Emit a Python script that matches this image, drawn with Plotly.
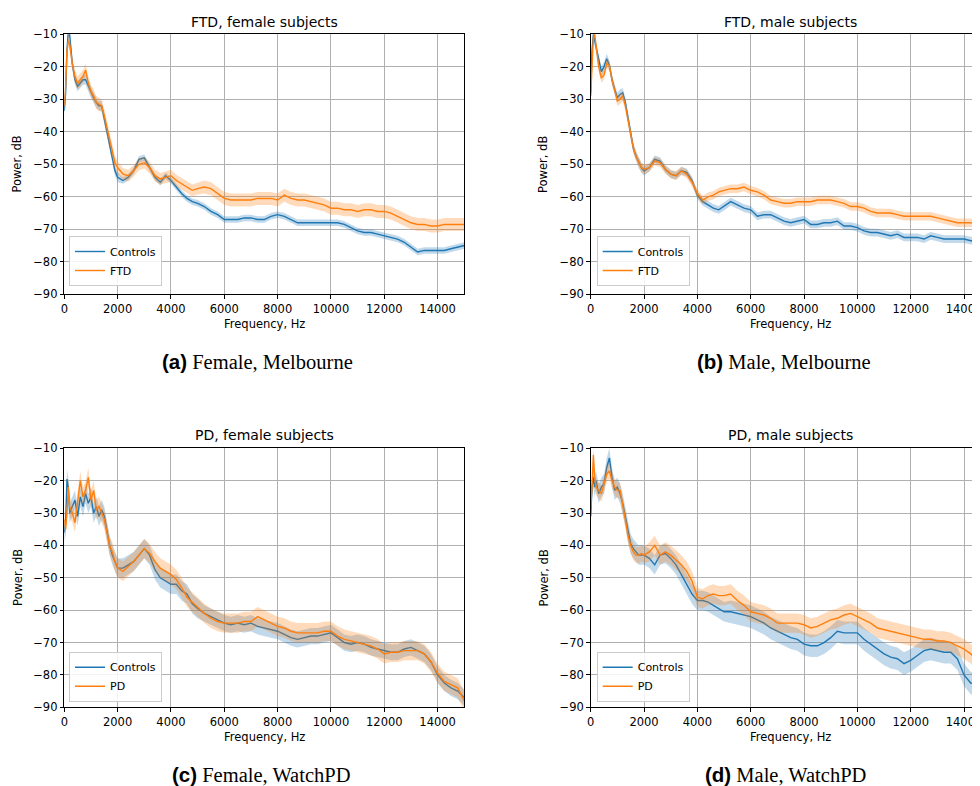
import plotly.graph_objects as go

# The page body adds an 8px margin around the figure, so the figure is 8px smaller
# and every page-pixel position below is shifted by that offset.
PAGE_W, PAGE_H = 980, 786
OFF = 8
W, H = PAGE_W - OFF, PAGE_H - OFF

# ---------------- data ----------------
FREQ = ([0, 50, 100, 150, 200, 300, 400, 500, 600, 700, 800, 900, 1000, 1100, 1200, 1300, 1400,
         1500, 1600, 1700, 1800, 1900, 2000]
        + [2200, 2400, 2600, 2800, 3000, 3200, 3400, 3600, 3800, 4000, 4200, 4400, 4600, 4800, 5000]
        + [5250, 5500, 5750, 6000, 6250, 6500, 6750, 7000, 7250, 7500, 7750, 8000, 8250, 8500,
           8750, 9000, 9250, 9500, 9750, 10000, 10250, 10500, 10750, 11000, 11250, 11500, 11750,
           12000, 12250, 12500, 12750, 13000, 13250, 13500, 13750, 14000, 14250, 14500, 14750, 15000])

X_TICKS = [0, 2000, 4000, 6000, 8000, 10000, 12000, 14000]
Y_TICKS = [-90, -80, -70, -60, -50, -40, -30, -20, -10]

# (a) FTD, female
A_CTRL = ([-33.5, -28, -15, -9, -10, -19, -24, -26, -25, -24, -24, -26, -28, -29.5, -31, -32, -32, -36, -40, -44, -48, -52, -54]
          + [-55, -54, -52, -48.5, -48, -51, -54, -55.5, -53.5, -55, -57, -59, -60.5, -61.5, -62]
          + [-63, -64.5, -65.5, -67, -67, -67, -66.5, -66.5, -67, -67, -66, -65.5, -66, -67, -68, -68, -68, -68, -68, -68,
             -68, -68.5, -69.5, -70.5, -71, -71, -71.5, -72, -72.5, -73, -74, -75.5, -77, -76.5, -76.5, -76.5, -76.5, -76, -75.5, -75])
A_FTD = ([-32, -26, -15, -12, -13, -19, -23, -25, -24, -23, -21, -25, -27.5, -29, -31, -31.5, -32, -35, -38.5, -42, -46, -49.5, -51]
         + [-53, -53.5, -52, -50, -49.5, -51, -53.5, -54.5, -54, -53.5, -55, -56, -57, -58, -57.5]
         + [-57, -57.5, -59, -60.5, -61, -61, -61, -61, -60.5, -60.5, -60.5, -61, -59.5, -60.5, -61, -61, -61.5, -62, -62.5, -63.5,
            -63.5, -64, -64, -64.5, -64, -64, -64.5, -64.5, -65, -66, -67, -68, -68.5, -68.5, -69, -69, -68.5, -68.5, -68.5, -68.5])
A_CTRL_HW = [1.5] * 23 + [1.0] * 15 + [1.0] * 40
A_FTD_HW = [2.0] * 23 + [1.8] * 15 + [2.0] * 40

# (b) FTD, male
B_CTRL = ([-28, -15, -10, -12, -14, -18, -21.5, -20, -17.5, -19.5, -24, -27, -29.5, -28.5, -28, -31, -36, -41, -45, -47.5, -49.5, -51, -52]
          + [-51, -48.5, -49, -51.5, -53, -53.5, -52, -52.5, -55, -59.5, -61.5, -62.5, -63.5, -64, -63]
          + [-61.5, -62.5, -63.5, -64, -66, -65.5, -65.5, -66.5, -67.5, -68, -67.5, -67, -68.5, -68.5, -68, -68, -67.5, -69, -69, -69.5,
             -70.5, -71, -71, -71.5, -72, -71.5, -72.5, -72.5, -72.5, -73, -72, -72.5, -73, -73, -73, -73, -73.5, -73.5, -73.5, -73.5])
B_FTD = ([-29, -18, -11, -10, -14, -20, -23.5, -22.5, -19, -19.5, -24, -27.5, -30.5, -30, -29, -32, -36.5, -41, -45, -47.5, -49.5, -51, -51.5]
         + [-51, -49, -49.5, -51.5, -53, -53.5, -52, -53, -55.5, -59, -61, -60, -59.5, -58.5, -58]
         + [-57.5, -57.5, -57, -58, -58.5, -59.5, -61, -61.5, -62, -62, -61.5, -61.5, -61.5, -61, -61, -61, -61.5, -62, -63, -63,
            -63.5, -64.5, -65, -65, -65, -65.5, -66, -66, -66, -66, -66, -66.5, -67, -67.5, -68, -68, -68, -68.5, -68.5, -69])
B_CTRL_HW = [1.5] * 23 + [1.2] * 15 + [1.2] * 40
B_FTD_HW = [1.5] * 23 + [1.3] * 15 + [1.3] * 40

# (c) PD, female
C_CTRL = ([-36, -33, -19.5, -22, -30, -28, -26, -31, -25, -28, -24, -27, -25, -30, -28, -31, -29, -31, -36, -40, -43, -45, -47]
          + [-47, -46, -45, -43, -41, -43, -47.5, -50, -51, -52, -52, -54, -55, -58, -59.5]
          + [-61, -62, -63, -64, -64.5, -64, -64.5, -64, -65, -65.5, -66, -66.5, -67.5, -68.5, -69, -68.5, -68, -68, -67.5, -67,
             -68.5, -70, -70.5, -70, -70.5, -71.5, -72, -72.5, -73, -73, -72, -71.5, -72.5, -73.5, -76, -80, -82.5, -84, -85, -87])
C_PD = ([-32, -35, -30, -22, -28, -30, -33, -27, -20, -25, -23, -19, -26, -23, -29, -28, -30, -32, -36, -40, -42, -45, -47]
        + [-48, -46.5, -45, -43, -41, -42.5, -45, -47, -48, -49, -50.5, -53, -56, -57.5, -59]
        + [-61, -62.5, -63.5, -64, -64, -64, -63.5, -63.5, -62, -63, -64, -65, -65.5, -66.5, -67, -67, -67, -67, -66.5, -66.5,
           -68, -69, -69.5, -70, -70.5, -71, -72, -73.5, -73, -73, -72.5, -72.5, -72.5, -73.5, -76, -79.5, -82, -83, -84, -88])
C_CTRL_HW = [3.0] * 23 + [3.0] * 15 + [2.5] * 40
C_PD_HW = [3.0] * 23 + [3.0] * 15 + [3.0] * 40

# (d) PD, male
D_CTRL = ([-31, -22, -19, -22, -20, -24, -22, -21, -16, -13, -19, -23, -22, -24, -27, -31, -36, -39.5, -41, -42, -43, -43, -43]
          + [-44, -46, -43, -42.5, -44, -46, -49, -52, -55, -57, -57, -57.5, -58.5, -59.5, -60.5]
          + [-60.5, -61, -61.5, -62, -63, -64, -65.5, -66.5, -67.5, -68.5, -69, -70.5, -71, -71, -70, -68.5, -66.5, -67, -67, -67,
             -69, -70.5, -72, -73.5, -74.5, -75, -76.5, -75.5, -74, -72.5, -72, -72.5, -73, -73, -75, -80, -82.5, -83, -83, -83])
D_PD = ([-28, -22, -12, -19, -22, -23, -24, -21, -18, -17, -20, -22, -23, -23, -27, -32, -37, -40, -42, -43, -43, -42.5, -43]
        + [-42, -40, -43, -42, -43, -44.5, -46, -48, -51, -56, -56.5, -55.5, -55, -55.5, -55.5]
        + [-55, -57, -58.5, -60.5, -61, -61.5, -62.5, -64, -64, -64, -64, -64.5, -65.5, -65, -64, -63, -62.5, -61.5, -61, -62,
           -63, -64, -65.5, -66, -66.5, -67, -67.5, -68, -68.5, -69, -69, -69.5, -69.5, -70, -71, -72, -73.5, -75.5, -76.5, -77])
D_CTRL_HW = [3.0] * 23 + [3.0] * 15 + [3.5] * 40
D_PD_HW = [2.5] * 23 + [3.0] * 15 + [3.0] * 40

TITLES = ["FTD, female subjects", "FTD, male subjects", "PD, female subjects", "PD, male subjects"]
GROUP_NAMES = ["FTD", "FTD", "PD", "PD"]
CAP_LETTERS = ["(a)", "(b)", "(c)", "(d)"]
CAP_TEXTS = ["Female, Melbourne", "Male, Melbourne", "Female, WatchPD", "Male, WatchPD"]

for arr in [A_CTRL, A_FTD, B_CTRL, B_FTD, C_CTRL, C_PD, D_CTRL, D_PD,
            A_CTRL_HW, A_FTD_HW, B_CTRL_HW, B_FTD_HW, C_CTRL_HW, C_PD_HW, D_CTRL_HW, D_PD_HW]:
    assert len(arr) == len(FREQ), len(arr)

# ---------------- style / layout ----------------
BLUE = "#1f77b4"
ORANGE = "#ff7f0e"
BLUE_FILL = "rgba(31,119,180,0.28)"
ORANGE_FILL = "rgba(255,127,14,0.28)"
FONT = "DejaVu Sans"


def xp(px):
    """page pixel x -> paper fraction"""
    return min(1.0, (px - OFF) / W)


def yp(py):
    """page pixel y -> paper fraction"""
    return 1 - (py - OFF) / H


# page-pixel boxes of the plot areas: (left, right, top, bottom, x_max)
BOXES = [
    (64.3, 464.3, 34.3, 294.3, 15000),
    (590.7, 980.0, 34.3, 294.3, (980.0 - 590.7) / 400.0 * 15000),
    (64.3, 464.3, 448.3, 707.3, 15000),
    (590.7, 980.0, 448.3, 707.3, (980.0 - 590.7) / 400.0 * 15000),
]
LEGEND_POS = [(69, 286), (596.7, 286), (69, 701.7), (596.7, 701.7)]
CAP_POS = [(257, 362), (784, 362), (261, 774), (785, 774)]

PANEL_DATA = [
    (A_CTRL, A_CTRL_HW, A_FTD, A_FTD_HW),
    (B_CTRL, B_CTRL_HW, B_FTD, B_FTD_HW),
    (C_CTRL, C_CTRL_HW, C_PD, C_PD_HW),
    (D_CTRL, D_CTRL_HW, D_PD, D_PD_HW),
]

fig = go.Figure()
layout = dict(
    width=W, height=H,
    margin=dict(l=0, r=0, t=0, b=0, autoexpand=False),
    paper_bgcolor="white", plot_bgcolor="white",
    showlegend=True,
    font=dict(family=FONT, size=11.5, color="black"),
)
annotations = []

for i, (ctrl, ctrl_hw, grp, grp_hw) in enumerate(PANEL_DATA):
    n = "" if i == 0 else str(i + 1)
    xa, ya = "x" + n, "y" + n
    leg = "legend" + n
    left, right, top, bottom, xmax = BOXES[i]
    right_panel = i in (1, 3)

    for vals, hw, color, fill, name in [
        (ctrl, ctrl_hw, BLUE, BLUE_FILL, "Controls"),
        (grp, grp_hw, ORANGE, ORANGE_FILL, GROUP_NAMES[i]),
    ]:
        upper = [v + h for v, h in zip(vals, hw)]
        lower = [v - h for v, h in zip(vals, hw)]
        fig.add_trace(go.Scatter(
            x=FREQ + FREQ[::-1], y=upper + lower[::-1],
            fill="toself", fillcolor=fill, line=dict(width=0),
            mode="lines", hoverinfo="skip", showlegend=False,
            xaxis=xa, yaxis=ya,
        ))
        fig.add_trace(go.Scatter(
            x=FREQ, y=vals, mode="lines", name=name,
            line=dict(color=color, width=1.4),
            xaxis=xa, yaxis=ya, legend=leg,
        ))

    layout["xaxis" + n] = dict(
        domain=[xp(left), xp(right)], anchor=ya, range=[0, xmax], automargin=False,
        tickvals=X_TICKS, ticktext=[str(t) for t in X_TICKS], ticklabeloverflow="allow",
        ticks="outside", ticklen=3.5, tickwidth=0.8, tickcolor="black",
        showgrid=True, gridcolor="#b0b0b0", gridwidth=0.8,
        showline=True, linecolor="black", linewidth=1, mirror=True,
        zeroline=False, tickfont=dict(family=FONT, size=11.5, color="black"),
    )
    layout["yaxis" + n] = dict(
        domain=[yp(bottom), yp(top)], anchor=xa, range=[-90, -10], automargin=False,
        tickvals=Y_TICKS, ticktext=["\u2212" + str(abs(t)) for t in Y_TICKS], ticklabeloverflow="allow",
        ticks="outside", ticklen=3.5, tickwidth=0.8, tickcolor="black",
        showgrid=True, gridcolor="#b0b0b0", gridwidth=0.8,
        showline=True, linecolor="black", linewidth=1, mirror=(not right_panel),
        zeroline=False, tickfont=dict(family=FONT, size=11.5, color="black"),
    )
    lx, ly = LEGEND_POS[i]
    layout[leg] = dict(
        x=xp(lx), y=yp(ly), xanchor="left", yanchor="bottom",
        bgcolor="rgba(255,255,255,0.85)", bordercolor="#cccccc", borderwidth=1,
        font=dict(family=FONT, size=11, color="black"),
        tracegroupgap=0, itemwidth=30,
    )

    cx = left + 200
    # panel title
    annotations.append(dict(
        text=TITLES[i], x=xp(cx), y=yp(21.7 if i < 2 else 435),
        xref="paper", yref="paper", showarrow=False, xanchor="center", yanchor="middle",
        font=dict(family=FONT, size=14, color="black"),
    ))
    # x-axis title
    annotations.append(dict(
        text="Frequency, Hz", x=xp(cx), y=yp(bottom + 30),
        xref="paper", yref="paper", showarrow=False, xanchor="center", yanchor="middle",
        font=dict(family=FONT, size=11.5, color="black"),
    ))
    # y-axis title
    annotations.append(dict(
        text="Power, dB", x=xp(left - 47), y=yp((top + bottom) / 2),
        xref="paper", yref="paper", showarrow=False, xanchor="center", yanchor="middle",
        textangle=-90, font=dict(family=FONT, size=11.5, color="black"),
    ))
    # caption
    capx, capy = CAP_POS[i]
    annotations.append(dict(
        text='<span style="font-family:Liberation Sans"><b>' + CAP_LETTERS[i] + '</b></span> ' + CAP_TEXTS[i],
        x=xp(capx), y=yp(capy),
        xref="paper", yref="paper", showarrow=False, xanchor="center", yanchor="middle",
        font=dict(family="Liberation Serif", size=20.5, color="black"),
    ))

layout["annotations"] = annotations
fig.update_layout(**layout)
fig.write_html("out.html")
